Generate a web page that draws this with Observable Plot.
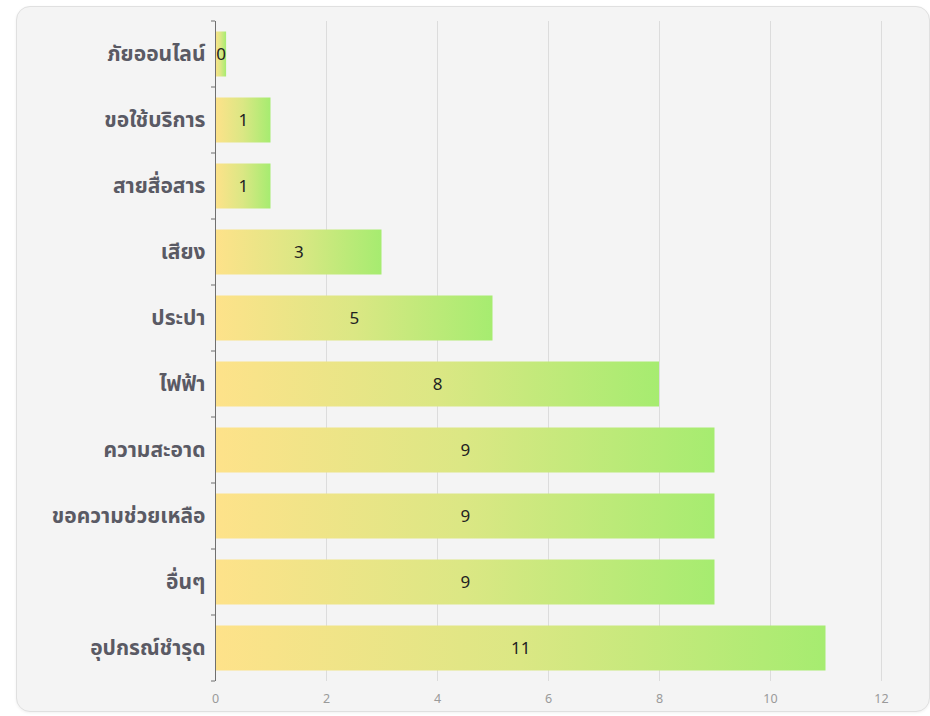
<!DOCTYPE html>
<html>
<head>
<meta charset="utf-8">
<script src="https://cdn.jsdelivr.net/npm/d3@7"></script>
<script src="https://cdn.jsdelivr.net/npm/@observablehq/plot@0.6"></script>
<style>
  html, body { margin: 0; padding: 0; background: #ffffff; }
  #panel {
    position: absolute; left: 16px; top: 6px;
    width: 912px; height: 704px;
    border: 1px solid #e0e0e0; border-radius: 14px;
    background: #f4f4f4; overflow: hidden;
    box-shadow: 0 1px 3px rgba(0,0,0,0.06);
  }
  #panel svg { display: block; }
</style>
</head>
<body>
<div id="panel"></div>
<script>
const categories = ["ภัยออนไลน์", "ขอใช้บริการ", "สายสื่อสาร", "เสียง", "ประปา", "ไฟฟ้า", "ความสะอาด", "ขอความช่วยเหลือ", "อื่นๆ", "อุปกรณ์ชำรุด"];
const counts = [0, 1, 1, 3, 5, 8, 9, 9, 9, 11];
const xTicks = [0, 2, 4, 6, 8, 10, 12];
const minBar = 0.2; // smallest visible bar length (for zero values)

const data = categories.map((c, i) => ({cat: c, count: counts[i], bar: Math.max(counts[i], minBar)}));

const chart = Plot.plot({
  width: 912,
  height: 704,
  marginLeft: 198,
  marginRight: 48,
  marginTop: 14,
  marginBottom: 30,
  style: {background: "transparent", fontFamily: "'Noto Sans Thai', 'Noto Sans', 'Open Sans', sans-serif", overflow: "visible"},
  x: {domain: [0, 12], label: null},
  y: {domain: categories, padding: 0, label: null},
  marks: [
    Plot.gridX(xTicks.slice(1), {stroke: "#dcdcdc", strokeOpacity: 1}),
    Plot.barX(data, {y: "cat", x: "bar", fill: "url(#barGrad)", insetTop: 10.5, insetBottom: 10.5}),
    Plot.text(data, {y: "cat", x: d => d.bar / 2, text: d => String(d.count), fontSize: 17, fill: "#222"}),
    Plot.ruleX([0], {stroke: "#6f6f6f", strokeWidth: 1}),
    Plot.axisX(xTicks, {tickSize: 0, tickPadding: 13, fontSize: 12.5, fill: "#9a9a9a", label: null}),
    Plot.axisY({tickSize: 0, tickPadding: 10, fontSize: 21, fontWeight: "bold", fill: "#5a5a64", label: null})
  ]
});

const svg = d3.select(chart);
const defs = svg.insert("defs", ":first-child");
const grad = defs.append("linearGradient").attr("id", "barGrad").attr("x1", "0").attr("x2", "1").attr("y1", "0").attr("y2", "0");
grad.append("stop").attr("offset", "0%").attr("stop-color", "#fee28a");
grad.append("stop").attr("offset", "50%").attr("stop-color", "#dbe784");
grad.append("stop").attr("offset", "100%").attr("stop-color", "#a6ec70");

// tick marks on band boundaries of the category axis
const ys = chart.scale("y");
const xs = chart.scale("x");
const x0 = xs.apply(0);
const bounds = categories.map(c => ys.apply(c));
bounds.push(ys.apply(categories[categories.length - 1]) + ys.bandwidth);
svg.append("g").attr("stroke", "#6f6f6f").selectAll("line").data(bounds).join("line")
  .attr("x1", x0 - 4).attr("x2", x0).attr("y1", d => d).attr("y2", d => d);

document.getElementById("panel").appendChild(chart);
</script>
</body>
</html>
